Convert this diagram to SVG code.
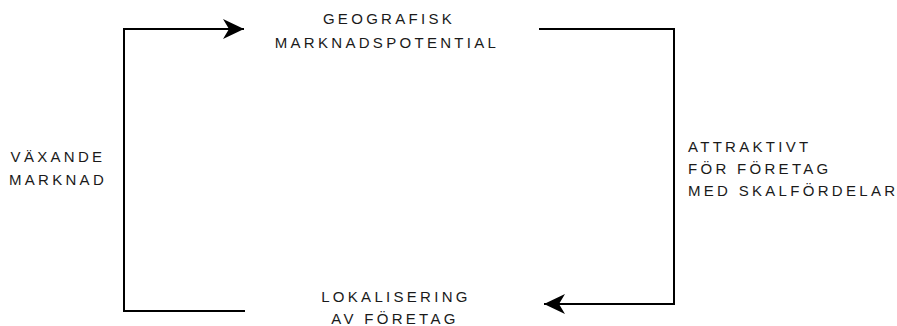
<svg xmlns="http://www.w3.org/2000/svg" width="897" height="326" viewBox="0 0 897 326">
<style>
text{font-family:"Liberation Sans",Arial,sans-serif;font-size:15px;fill:#1a1a1a;letter-spacing:3.3px}
.c{text-anchor:middle}
.ln{fill:none;stroke:#000;stroke-width:2}
</style>
<defs>
<marker id="ah" markerWidth="22" markerHeight="22" viewBox="0 0 22 22" refX="21" refY="11" orient="auto" markerUnits="userSpaceOnUse">
<path d="M0,1 L21,11 L0,21 L6,11 Z" fill="#000"/>
</marker>
</defs>
<rect width="897" height="326" fill="#fff"/>
<g id="connectors">
<path class="ln" d="M124,312 V29 H244" marker-end="url(#ah)"/>
<path class="ln" d="M539,29 H674 V304 H544" marker-end="url(#ah)"/>
<path class="ln" d="M124,311 H245"/>
</g>
<g id="geografisk"><text class="c" x="389" y="24">GEOGRAFISK</text><text class="c" x="387" y="48">MARKNADSPOTENTIAL</text></g>
<g id="lokalisering"><text class="c" x="396" y="302">LOKALISERING</text><text class="c" x="395" y="324">AV FÖRETAG</text></g>
<g id="vaxande"><text class="c" x="58" y="162">VÄXANDE</text><text class="c" x="58" y="185">MARKNAD</text></g>
<g id="attraktivt"><text x="688" y="152">ATTRAKTIVT</text><text x="688" y="174">FÖR FÖRETAG</text><text x="688" y="196">MED SKALFÖRDELAR</text></g>
</svg>
